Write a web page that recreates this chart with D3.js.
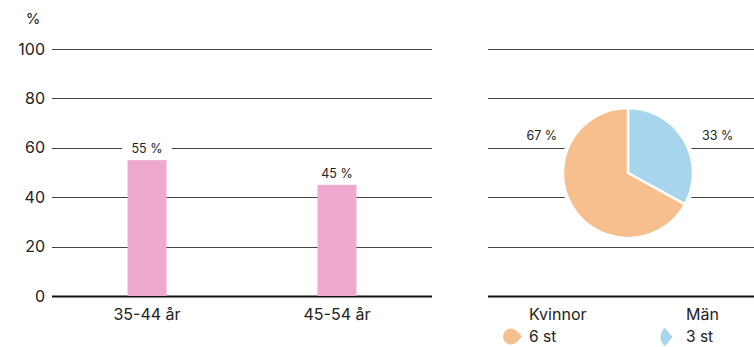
<!DOCTYPE html>
<html><head><meta charset="utf-8">
<script src="https://cdn.jsdelivr.net/npm/d3@7"></script>
<style>
html,body{margin:0;padding:0;background:#fff;}
svg{display:block;font-family:Inter, "Noto Sans", sans-serif;}
</style></head>
<body>
<svg id="c" width="754" height="347"></svg>
<script>
// ---- data ----
const categories = ["35-44 år", "45-54 år"];
const barValues = [55, 45];
const barLabels = ["55 %", "45 %"];
const yTicks = [0, 20, 40, 60, 80, 100];
const pieNames = ["Män", "Kvinnor"];
const pieValues = [33, 67];
const pieLabels = ["33 %", "67 %"];
const pieCounts = ["3 st", "6 st"];
const pieColors = ["#A8D5EE", "#F8BF8E"];
const barColor = "#EFA8CE";

const svg = d3.select("#c");
const y = d3.scaleLinear().domain([0, 100]).range([296, 49]);

// ---- left: bar chart ----
const x = d3.scaleBand().domain(categories).range([52, 432])
  .paddingInner(0.795).paddingOuter(0.3975);

const left = svg.append("g");
left.selectAll("line.grid").data(yTicks).join("line")
  .attr("x1", 52).attr("x2", 432)
  .attr("y1", d => Math.round(y(d)) + 0.5).attr("y2", d => Math.round(y(d)) + 0.5)
  .attr("stroke", d => d === 0 ? "#111" : "#444")
  .attr("stroke-width", d => d === 0 ? 2 : 1);

left.selectAll("text.tick").data(yTicks).join("text")
  .attr("x", 45).attr("y", d => y(d)).attr("dy", "0.35em")
  .attr("text-anchor", "end").attr("font-size", 16).attr("fill", "#222")
  .text(d => d);

svg.append("text").attr("x", 33).attr("y", 24).attr("text-anchor", "middle")
  .attr("font-size", 15).attr("fill", "#222").text("%");

left.selectAll("rect.bar").data(barValues).join("rect")
  .attr("x", (d, i) => x(categories[i])).attr("width", x.bandwidth())
  .attr("y", d => y(d)).attr("height", d => y(0) - y(d))
  .attr("fill", barColor);

// bar labels with white background
const lab = left.selectAll("g.lab").data(barValues).join("g")
  .attr("transform", (d, i) => `translate(${x(categories[i]) + x.bandwidth() / 2},${y(d) - 7})`);
lab.append("rect").attr("x", -25).attr("width", 50).attr("y", -13).attr("height", 15).attr("fill", "#fff");
lab.append("text").attr("text-anchor", "middle").attr("font-size", 12.5).attr("fill", "#222")
  .text((d, i) => barLabels[i]);

left.selectAll("text.cat").data(categories).join("text")
  .attr("x", d => x(d) + x.bandwidth() / 2).attr("y", 320)
  .attr("text-anchor", "middle").attr("font-size", 16).attr("fill", "#222")
  .text(d => d);

// ---- right: pie chart ----
const right = svg.append("g");
right.selectAll("line.grid").data(yTicks).join("line")
  .attr("x1", 488).attr("x2", 754)
  .attr("y1", d => Math.round(y(d)) + 0.5).attr("y2", d => Math.round(y(d)) + 0.5)
  .attr("stroke", d => d === 0 ? "#111" : "#444")
  .attr("stroke-width", d => d === 0 ? 2 : 1);

const cx = 628, cy = 173, R = 65;
const pg = right.append("g").attr("transform", `translate(${cx},${cy})`);
pg.append("circle").attr("r", R + 3).attr("fill", "#fff");
const pie = d3.pie().sort(null)(pieValues);
const arc = d3.arc().innerRadius(0).outerRadius(R);
pg.selectAll("path").data(pie).join("path")
  .attr("d", arc).attr("fill", (d, i) => pieColors[i])
  .attr("stroke", "#fff").attr("stroke-width", 2.5).attr("stroke-linejoin", "round");

right.append("text").attr("x", 702).attr("y", 140).attr("font-size", 12.5).attr("fill", "#222")
  .text(pieLabels[0]);
right.append("text").attr("x", 557).attr("y", 140).attr("text-anchor", "end")
  .attr("font-size", 12.5).attr("fill", "#222").text(pieLabels[1]);

// legend
const legX = [686, 529];
pieNames.forEach((n, i) => {
  right.append("text").attr("x", legX[i]).attr("y", 320).attr("font-size", 16)
    .attr("fill", "#222").text(n);
  right.append("text").attr("x", legX[i]).attr("y", 342).attr("font-size", 15.5)
    .attr("fill", "#222").text(pieCounts[i]);
});
// legend icons (teardrops pointing right)
function drop(ccx, ccy, r, d, color) {
  const a = Math.acos(r / d);
  const p = d3.path();
  p.moveTo(ccx + d, ccy);
  p.lineTo(ccx + r * Math.cos(a), ccy - r * Math.sin(a));
  p.arc(ccx, ccy, r, -a, a, true);
  p.closePath();
  right.append("path").attr("d", p.toString()).attr("fill", color);
}
drop(511, 336.5, 8, 11, pieColors[1]);
right.append("path")
  .attr("transform", "translate(672.5,337)")
  .attr("d", d3.arc().innerRadius(0).outerRadius(12)({startAngle: -0.78 * Math.PI, endAngle: -0.22 * Math.PI}))
  .attr("fill", pieColors[0]);
</script>
</body></html>
